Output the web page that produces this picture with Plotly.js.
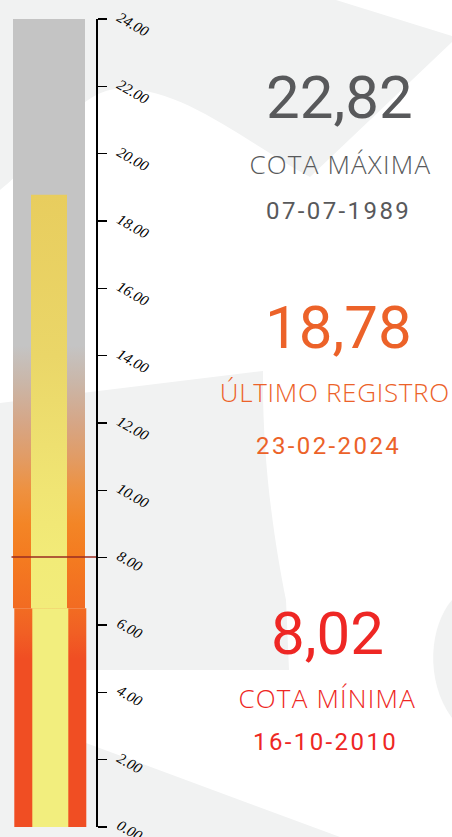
<!DOCTYPE html>
<html>
<head>
<meta charset="utf-8">
<script src="https://cdn.plot.ly/plotly-3.0.1.min.js"></script>
<style>
html,body{margin:0;padding:0;background:#fff;overflow:hidden;}
#chart{width:452px;height:837px;}
.annotation[data-index="2"] text,
.annotation[data-index="5"] text,
.annotation[data-index="8"] text{letter-spacing:2.4px;}
.annotation[data-index="1"] text,
.annotation[data-index="7"] text{letter-spacing:1.2px;}
.annotation[data-index="4"] text{letter-spacing:0.7px;}
</style>
</head>
<body>
<div id="chart"></div>
<script>
// ---------------- DATA ----------------
const scaleMin = 0;
const scaleMax = 24;
const tickValues = [0, 2, 4, 6, 8, 10, 12, 14, 16, 18, 20, 22, 24];
const tickLabels = ['0.00', '2.00', '4.00', '6.00', '8.00', '10.00', '12.00', '14.00', '16.00', '18.00', '20.00', '22.00', '24.00'];
const statNames = ['COTA MÁXIMA', 'ÚLTIMO REGISTRO', 'COTA MÍNIMA'];
const statValues = [22.82, 18.78, 8.02];
const statDates = ['07-07-1989', '23-02-2024', '16-10-2010'];
const lastRecord = 18.78;
const minRecord = 8.02;
const sectionBreak = 6.5;

// ---------------- STYLE / GEOMETRY ----------------
const W = 452, H = 837;
const plotTopPx = 19, plotBottomPx = 827, axisPx = 96;
const outerX = [13, 85];
const innerX = [31, 67];
const lowerShift = 1.3;
const refLineX = [11.5, 96];
const statColors = ['#58595b', '#ec6229', '#ee2724'];
const statX = [[339, 340, 338], [338, 335, 328], [327, 327, 325]];
const statY = [[98, 164, 211], [327, 392, 446], [633, 698, 742]];

// gradient stops: [level, colour]
const outerUpperStops = [[6.5, '#f26b22'], [8, '#f47b20'], [9, '#f38526'], [10, '#ee9140'], [11, '#e19c66'], [12, '#d6a686'], [13.2, '#cab6a8'], [14.3, '#c4c4c4'], [24, '#c4c4c4']];
const outerLowerStops = [[0, '#f04e23'], [5, '#f04e23'], [5.8, '#f16024'], [6.5, '#f26c22']];
const innerUpperStops = [[6.5, '#f2ec7a'], [8, '#f2eb78'], [10, '#f0e574'], [14, '#ead668'], [18.78, '#e8cd5e']];
const innerLowerStops = [[0, '#f2ee7e'], [6.5, '#f2ee7e']];

function scale(stops, lo, hi) {
  return stops.map(s => [(s[0] - lo) / (hi - lo), s[1]]);
}
function column(xs, lo, hi, stops) {
  return {
    type: 'scatter', mode: 'lines',
    x: [xs[0], xs[1], xs[1], xs[0], xs[0]],
    y: [lo, lo, hi, hi, lo],
    fill: 'toself',
    line: {width: 0, color: 'rgba(0,0,0,0)'},
    fillcolor: stops[stops.length - 1][1],
    fillgradient: {type: 'vertical', start: lo, stop: hi, colorscale: scale(stops, lo, hi)},
    hoverinfo: 'skip', showlegend: false
  };
}
const shifted = xs => [xs[0] + lowerShift, xs[1] + lowerShift];

const traces = [
  column(outerX, sectionBreak, scaleMax, outerUpperStops),
  column(shifted(outerX), scaleMin, sectionBreak, outerLowerStops),
  column(innerX, sectionBreak, lastRecord, innerUpperStops),
  column(shifted(innerX), scaleMin, sectionBreak, innerLowerStops),
  {
    type: 'scatter', mode: 'lines',
    x: refLineX, y: [minRecord, minRecord],
    line: {color: '#9a2b22', width: 1.4},
    hoverinfo: 'skip', showlegend: false
  }
];

// background decoration (pixel space -> paper)
const px = x => (x / W).toFixed(5);
const py = y => (1 - y / H).toFixed(5);
function path(cmds) {
  return cmds.map(c => c[0] + ' ' + c.slice(1).reduce((a, v, i) => {
    a.push(i % 2 === 0 ? px(v) : py(v)); return a;
  }, []).join(',')).join(' ') + ' Z';
}
const bg = '#f1f2f2';
const shapes = [
  {type: 'path', xref: 'paper', yref: 'paper', layer: 'below', fillcolor: bg, line: {width: 0},
   path: path([['M', 0, 0], ['L', 336, 0], ['L', 452, 36], ['L', 452, 42], ['L', 310, 177],
               ['C', 245, 142, 180, 84, 115, 89], ['C', 70, 95, 40, 160, 0, 190]])},
  {type: 'path', xref: 'paper', yref: 'paper', layer: 'below', fillcolor: bg, line: {width: 0},
   path: path([['M', 0, 403], ['L', 263, 371], ['C', 262, 460, 274, 540, 286, 600], ['L', 289, 670],
               ['L', 86, 670], ['L', 86, 743], ['L', 340, 837], ['L', 0, 837]])},
  {type: 'path', xref: 'paper', yref: 'paper', layer: 'below', fillcolor: bg, line: {width: 0},
   path: path([['M', 452, 600], ['C', 430, 625, 424, 680, 452, 718]])}
];

const fmt = v => v.toFixed(2).replace('.', ',');
const annotations = [];
statNames.forEach((name, i) => {
  const c = statColors[i];
  const items = [
    {text: fmt(statValues[i]), font: {family: 'Roboto', size: 60, color: c}},
    {text: name, font: {family: 'Open Sans', size: 26, weight: 300, color: c}},
    {text: statDates[i], font: {family: 'Roboto', size: 24, color: c}}
  ];
  items.forEach((it, j) => {
    annotations.push({
      xref: 'paper', yref: 'paper', x: statX[i][j] / W, y: 1 - statY[i][j] / H,
      xanchor: 'center', yanchor: 'middle', showarrow: false,
      text: it.text, font: it.font
    });
  });
});

const layout = {
  width: W, height: H,
  margin: {l: 0, r: 0, t: 0, b: 0, pad: 0},
  paper_bgcolor: '#ffffff', plot_bgcolor: 'rgba(0,0,0,0)',
  showlegend: false, hovermode: false,
  xaxis: {domain: [0, axisPx / W], range: [0, axisPx], visible: false, fixedrange: true},
  yaxis: {
    domain: [1 - plotBottomPx / H, 1 - plotTopPx / H],
    range: [scaleMin, scaleMax], side: 'right', anchor: 'x',
    showline: true, linecolor: '#000', linewidth: 1.6,
    ticks: 'outside', ticklen: 9, tickwidth: 1.6, tickcolor: '#000',
    tickmode: 'array', tickvals: tickValues, ticktext: tickLabels,
    tickangle: 30, showgrid: false, zeroline: false, automargin: false,
    ticklabeloverflow: 'allow', ticklabelstandoff: 10, ticklabelshift: -3,
    tickfont: {family: 'Liberation Serif', size: 15, style: 'italic', color: '#000'}
  },
  shapes: shapes,
  annotations: annotations
};

Plotly.newPlot('chart', traces, layout, {displayModeBar: false, staticPlot: true});
</script>
</body>
</html>
